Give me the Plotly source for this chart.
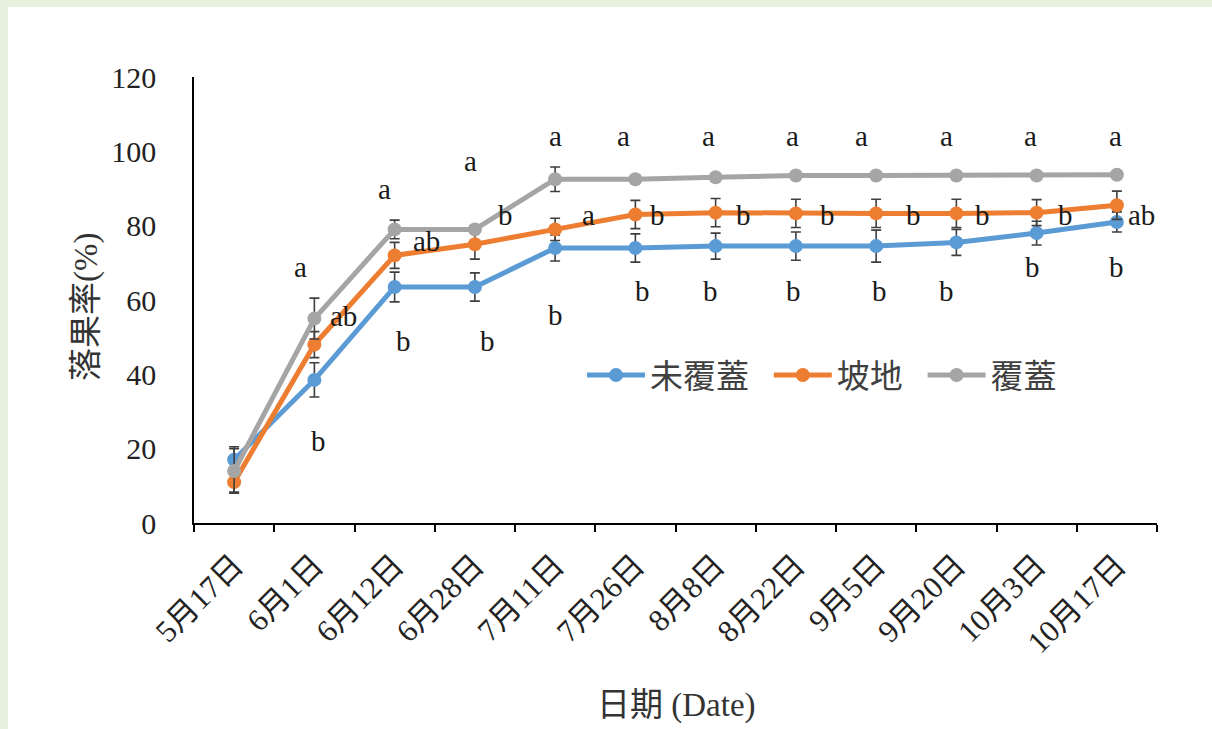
import plotly.graph_objects as go

# Sampling dates
dates = ["5月17日", "6月1日", "6月12日", "6月28日", "7月11日", "7月26日",
         "8月8日", "8月22日", "9月5日", "9月20日", "10月3日", "10月17日"]

# Fruit drop rate (%) per treatment
uncovered = [17, 38.5, 63.5, 63.5, 74, 74, 74.5, 74.5, 74.5, 75.5, 78, 81]
slope = [11, 48, 72, 75, 79, 83, 83.5, 83.3, 83.3, 83.3, 83.5, 85.5]
covered = [14, 55, 79, 79, 92.5, 92.5, 93, 93.5, 93.5, 93.5, 93.5, 93.7]

# Standard errors
uncovered_err = [3.5, 4.6, 4, 3.8, 3.5, 3.8, 3.5, 3.8, 4.3, 3.5, 3.2, 2.7]
slope_err = [2.7, 3.5, 3.5, 4, 3, 3.8, 3.8, 3.8, 3.8, 3.8, 3.5, 3.8]
covered_err = [6, 5.5, 2.5, 1, 3.3, 1, 1, 1, 1, 1, 1, 1]

# Significance letters (None = not labelled)
covered_letters = [None, "a", "a", "a", "a", "a", "a", "a", "a", "a", "a", "a"]
slope_letters = [None, "ab", "ab", "b", "a", "b", "b", "b", "b", "b", "b", "ab"]
uncovered_letters = [None, "b", "b", "b", "b", "b", "b", "b", "b", "b", "b", "b"]

# Letter placement: (pixel shift from category centre, height on the y scale)
covered_pos = [None, (-14, 68.9), (-10, 90), (-4, 97.4), (0, 104), (-12, 104),
               (-7, 104), (-3, 104), (-15, 104), (-10, 104), (-6, 104), (-1, 104)]
slope_pos = [None, (29, 55.7), (32, 76), (31, 83), (33, 83), (22, 83),
             (28, 83), (32, 83), (37, 83), (26, 83), (29, 83), (25, 83)]
uncovered_pos = [None, (4, 22), (9, 49), (13, 49), (0, 56), (7, 62.4),
                 (-5, 62.4), (-2, 62.4), (3, 62.4), (-10, 62.4), (-4, 69), (0, 69)]

W, H = 1212, 729
L, R, T, B = 194, 55, 77, 206
PW, PH = W - L - R, H - T - B

SERIF = "Liberation Serif, 'Times New Roman', 'Noto Sans CJK TC', 'Noto Sans CJK SC', serif"
CJK = "'Noto Sans CJK TC', 'Noto Sans CJK SC', sans-serif"
ERR_COLOR = "#3f3f3f"
PAD = "\u00a0\u00a0"  # spacing after each legend label

idx = list(range(len(dates)))

fig = go.Figure()
series = [
    ("未覆蓋", uncovered, uncovered_err, "#5B9BD5"),
    ("坡地", slope, slope_err, "#ED7D31"),
    ("覆蓋", covered, covered_err, "#A5A5A5"),
]
for name, vals, errs, color in series:
    fig.add_trace(go.Scatter(
        x=idx, y=vals, name=name + PAD, mode="lines+markers",
        line=dict(color=color, width=5),
        marker=dict(color=color, size=14),
        error_y=dict(type="data", array=errs, visible=True,
                     color=ERR_COLOR, thickness=1.6, width=5),
    ))

annotations = []
for letters, pos in [(covered_letters, covered_pos),
                     (slope_letters, slope_pos),
                     (uncovered_letters, uncovered_pos)]:
    for i, (lab, p) in enumerate(zip(letters, pos)):
        if lab is None:
            continue
        annotations.append(dict(
            x=i, y=p[1], xref="x", yref="y", text=lab, showarrow=False,
            xshift=p[0], font=dict(family=SERIF, size=29, color="#1a1a1a"),
        ))

# Axis titles
annotations.append(dict(
    x=(676 - L) / PW, y=(H - B - 705) / PH, xref="paper", yref="paper",
    xanchor="center", yanchor="middle",
    text="日期 (Date)", showarrow=False,
    font=dict(family=SERIF, size=33, color="#333333"),
))
annotations.append(dict(
    x=(86 - L) / PW, y=(H - B - 307) / PH, xref="paper", yref="paper",
    xanchor="center", yanchor="middle",
    text="落果率(%)", showarrow=False, textangle=-90,
    font=dict(family=SERIF, size=33, color="#333333"),
))

# White page over a pale tinted backdrop
shapes = [dict(
    type="rect", xref="paper", yref="paper", layer="below",
    x0=(8 - L) / PW, x1=(W + 5 - L) / PW,
    y0=(H - B - (H + 5)) / PH, y1=(H - B - 7) / PH,
    fillcolor="white", line=dict(width=0),
)]

fig.update_layout(
    width=W, height=H,
    margin=dict(l=L, r=R, t=T, b=B, pad=0),
    paper_bgcolor="#e8f0e0",
    plot_bgcolor="rgba(0,0,0,0)",
    showlegend=True,
    legend=dict(
        orientation="h", x=(582 - L) / PW, y=(H - B - 375) / PH,
        xanchor="left", yanchor="middle",
        font=dict(family=CJK, size=33, color="#404040"),
        bgcolor="rgba(0,0,0,0)", itemwidth=58, traceorder="normal",
    ),
    xaxis=dict(
        type="linear", range=[-0.5, len(dates) - 0.5],
        tickmode="array", tickvals=idx, ticktext=dates,
        tickangle=-45, showgrid=False, zeroline=False,
        showline=True, linecolor="#000000", linewidth=1.5,
        ticks="", ticklabelstandoff=10,
        tickfont=dict(family=SERIF, size=31, color="#222222"),
        minor=dict(tickmode="array", tickvals=[i - 0.5 for i in range(len(dates) + 1)],
                   ticks="outside", ticklen=7, tickwidth=1.5, tickcolor="#000000"),
    ),
    yaxis=dict(
        range=[0, 120], tickvals=[0, 20, 40, 60, 80, 100, 120],
        showgrid=False, zeroline=False, showline=True,
        linecolor="#000000", linewidth=1.5, ticks="",
        ticklabelstandoff=30,
        tickfont=dict(family=SERIF, size=30, color="#222222"),
    ),
    annotations=annotations,
    shapes=shapes,
)

fig.write_html("out.html")
